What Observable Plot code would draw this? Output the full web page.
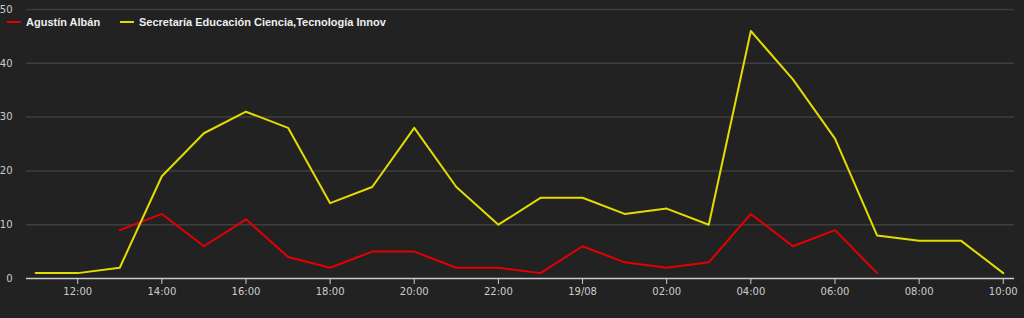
<!DOCTYPE html>
<html><head><meta charset="utf-8">
<script src="https://cdn.jsdelivr.net/npm/d3@7"></script>
<script src="https://cdn.jsdelivr.net/npm/@observablehq/plot@0.6"></script>
<style>
html,body{margin:0;padding:0;background:#222;}
#wrap{position:relative;width:1024px;height:318px;background:#222;}
.leg{position:absolute;top:15px;height:14px;font:bold 11px "Liberation Sans",sans-serif;color:#eee;display:flex;align-items:center;white-space:nowrap;}
.sw{display:inline-block;width:14px;height:2px;margin-right:5px;}
</style>
</head><body>
<div id="wrap"></div>
<script>
const times = [
  "2019-08-18T11:00Z","2019-08-18T12:00Z","2019-08-18T13:00Z","2019-08-18T14:00Z",
  "2019-08-18T15:00Z","2019-08-18T16:00Z","2019-08-18T17:00Z","2019-08-18T18:00Z",
  "2019-08-18T19:00Z","2019-08-18T20:00Z","2019-08-18T21:00Z","2019-08-18T22:00Z",
  "2019-08-18T23:00Z","2019-08-19T00:00Z","2019-08-19T01:00Z","2019-08-19T02:00Z",
  "2019-08-19T03:00Z","2019-08-19T04:00Z","2019-08-19T05:00Z","2019-08-19T06:00Z",
  "2019-08-19T07:00Z","2019-08-19T08:00Z","2019-08-19T09:00Z","2019-08-19T10:00Z"
];
const seriesNames = ["Agustín Albán", "Secretaría Educación Ciencia,Tecnología Innov"];
const seriesColors = ["#e50000", "#e3dc00"];
const agustin = [null,null,9,12,6,11,4,2,5,5,2,2,1,6,3,2,3,12,6,9,1,null,null,null];
const secretaria = [1,1,2,19,27,31,28,14,17,28,17,10,15,15,12,13,10,46,37,26,8,7,7,1];
const yTicks = [0,10,20,30,40,50];
const xDomain = ["2019-08-18T10:47Z","2019-08-19T10:16Z"];

const rows = [];
[agustin, secretaria].forEach((vals, s) => {
  vals.forEach((v, i) => rows.push({t: new Date(times[i]), v, s: seriesNames[s]}));
});

const fmt = d => (d.getUTCHours() === 0) ? d3.utcFormat("%d/%m")(d) : d3.utcFormat("%H:%M")(d);

const chart = Plot.plot({
  width: 1024, height: 318,
  marginLeft: 26, marginRight: 10, marginTop: 9, marginBottom: 40,
  style: {background: "#222", color: "#ccc", fontFamily: "DejaVu Sans, sans-serif", fontSize: "10px"},
  x: {type: "utc", domain: xDomain.map(d => new Date(d))},
  y: {domain: [0, 50]},
  color: {domain: seriesNames, range: seriesColors},
  marks: [
    Plot.gridY(yTicks.slice(1), {stroke: "#3e3e3e", strokeOpacity: 1, strokeWidth: 1.5}),
    Plot.ruleY([0], {stroke: "#ccc", strokeWidth: 1.5}),
    Plot.axisY(yTicks, {tickSize: 0, tickPadding: 14, fill: "#ccc", label: null}),
    Plot.axisX({ticks: d3.utcHour.every(2), tickFormat: fmt, tickSize: 6, tickPadding: 3, stroke: "#ccc", fill: "#ccc", label: null}),
    Plot.line(rows, {x: "t", y: "v", z: "s", stroke: "s", strokeWidth: 2, defined: d => d != null})
  ]
});
const wrap = document.getElementById("wrap");
wrap.appendChild(chart);

const legPos = [7, 120];
seriesNames.forEach((n, i) => {
  const d = document.createElement("div");
  d.className = "leg";
  d.style.left = legPos[i] + "px";
  const sw = document.createElement("span");
  sw.className = "sw";
  sw.style.background = seriesColors[i];
  d.appendChild(sw);
  d.appendChild(document.createTextNode(n));
  wrap.appendChild(d);
});
</script>
</body></html>
